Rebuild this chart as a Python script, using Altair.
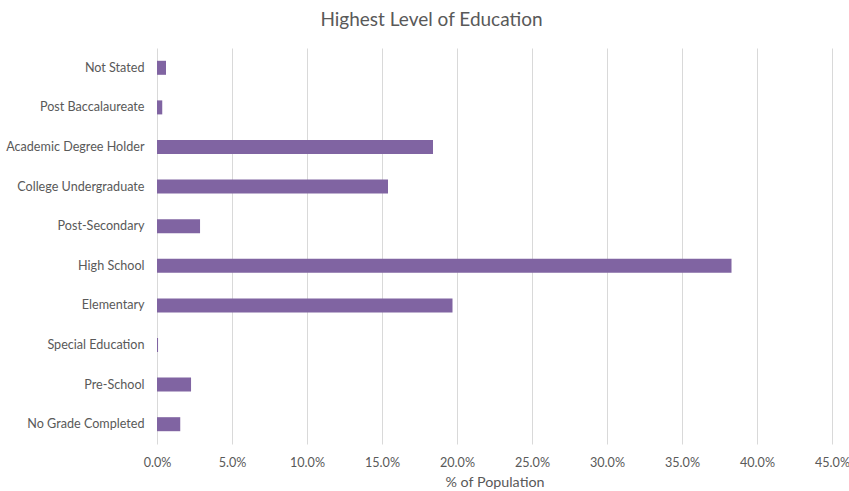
import altair as alt
import pandas as pd

categories = ["Not Stated", "Post Baccalaureate", "Academic Degree Holder",
              "College Undergraduate", "Post-Secondary", "High School",
              "Elementary", "Special Education", "Pre-School", "No Grade Completed"]
values = [0.006, 0.0035, 0.184, 0.154, 0.0287, 0.383, 0.197, 0.0007, 0.0227, 0.0155]
tick_values = [0, 0.05, 0.10, 0.15, 0.20, 0.25, 0.30, 0.35, 0.40, 0.45]

df = pd.DataFrame({"level": categories, "pct": values})

FONT = "Lato"
GRAY = "#595959"

chart = alt.Chart(df).mark_bar(color="#8064A2").encode(
    x=alt.X("pct:Q",
            scale=alt.Scale(domain=[0, 0.45], nice=False),
            axis=alt.Axis(values=tick_values, format=".1%", title="% of Population",
                          grid=True, gridColor="#d9d9d9", gridWidth=1,
                          domain=False, ticks=False, labelPadding=12,
                          labelFlush=False, labelOverlap=False,
                          labelFont=FONT, labelFontSize=12.6, labelColor=GRAY,
                          titleFont=FONT, titleFontSize=14.3, titleColor=GRAY,
                          titleFontWeight="normal", titlePadding=7)),
    y=alt.Y("level:N", sort=categories,
            scale=alt.Scale(paddingInner=0.646, paddingOuter=0.323),
            axis=alt.Axis(title=None, domain=False, ticks=False, grid=False,
                          labelPadding=13, labelFont=FONT, labelFontSize=12.6,
                          labelColor=GRAY, labelLimit=400)),
).properties(
    width=675,
    height=396,
    title=alt.TitleParams("Highest Level of Education", font=FONT, fontSize=19,
                          fontWeight="normal", color=GRAY, anchor="middle",
                          dx=-63, offset=18),
    autosize=alt.AutoSizeParams(type="none"),
    padding={"left": 157, "top": 48, "right": 17, "bottom": 47},
).configure_view(stroke=None)

chart.save("out.html", embed_options={"renderer": "svg", "actions": False})
